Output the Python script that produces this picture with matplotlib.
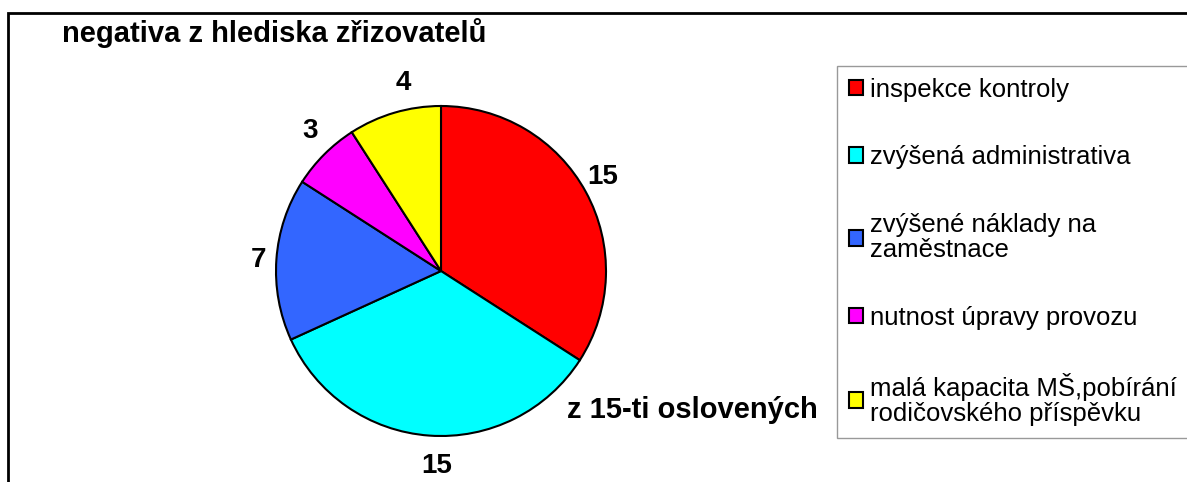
import matplotlib
matplotlib.use('Agg')
import matplotlib.pyplot as plt
from matplotlib.patches import Rectangle

plt.rcParams['font.family'] = ['Liberation Sans', 'DejaVu Sans']

labels = ['inspekce kontroly', 'zvýšená administrativa', 'zvýšené náklady na\nzaměstnace',
          'nutnost úpravy provozu', 'malá kapacita MŠ,pobírání\nrodičovského příspěvku']
values = [15, 15, 7, 3, 4]
colors = ['#ff0000', '#00ffff', '#3366ff', '#ff00ff', '#ffff00']

W, H = 1187, 482
fig = plt.figure(figsize=(W / 100, H / 100), dpi=100)

# outer chart frame (cut off on the right and bottom)
fig.patches.append(Rectangle((8 / W, -0.2), 1.2, 1.2 - 13 / H,
                             transform=fig.transFigure, fill=False,
                             edgecolor='black', linewidth=2))

# pie axes: center ~ (441, 271) px, radius ~165 px
cx, cy, r = 441, 271, 165
ax = fig.add_axes([(cx - r) / W, (H - cy - r) / H, 2 * r / W, 2 * r / H])
wedges, texts = ax.pie(values, colors=colors, startangle=90, counterclock=False,
                       labels=[str(v) for v in values], labeldistance=1.16,
                       wedgeprops=dict(edgecolor='black', linewidth=1.5))
# small nudges so labels sit where Excel put them
nudges = [(-6, 2), (9, -4), (8, -3), (4, 5), (16, 4)]
for t, (dx, dy) in zip(texts, nudges):
    t.set_fontsize(20)
    t.set_fontweight('bold')
    t.set_ha('center')
    t.set_va('center')
    x, y = t.get_position()
    t.set_position((x + dx / r, y + dy / r))
ax.set_xlim(-1, 1)
ax.set_ylim(-1, 1)
ax.set_aspect('equal')

fig.text(62 / W, 1 - 33 / H, 'negativa z hlediska zřizovatelů', fontsize=21,
         fontweight='bold', ha='left', va='center')
fig.text(692 / W, 1 - 410 / H, 'z 15-ti oslovených', fontsize=21,
         fontweight='bold', ha='center', va='center')

leg = fig.legend(wedges, labels, loc='upper left',
                 bbox_to_anchor=(837 / W, 1 - 66 / H), fontsize=18.5,
                 frameon=True, fancybox=False, edgecolor='#808080',
                 handlelength=0.55, handleheight=0.55, handletextpad=0.3,
                 labelspacing=1.7, borderpad=0.45, borderaxespad=0)
leg.get_frame().set_linewidth(1)
for t in leg.get_texts():
    t.set_linespacing(1.05)
for h in leg.legend_handles:
    h.set_linewidth(1.5)

plt.savefig('out.png', dpi=100)
